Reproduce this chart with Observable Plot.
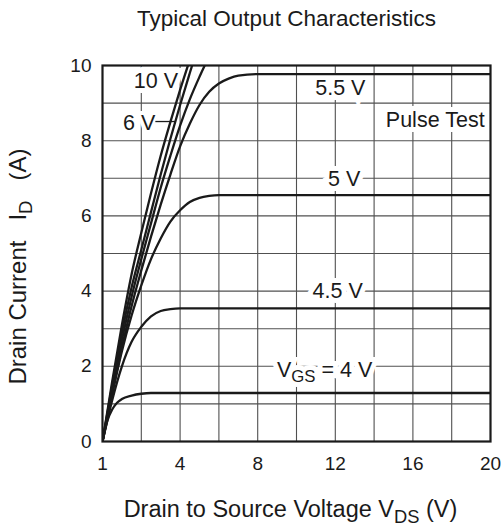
<!DOCTYPE html>
<html>
<head>
<meta charset="utf-8">
<script src="https://cdn.jsdelivr.net/npm/d3@7"></script>
<script src="https://cdn.jsdelivr.net/npm/@observablehq/plot@0.6"></script>
<style>
  html, body { margin: 0; padding: 0; background: #fff; }
  svg { display: block; }
</style>
</head>
<body>
<div id="chart"></div>
<script>
// ---- Data ----
const xTicks = [0, 4, 8, 12, 16, 20];
const xTickLabels = ["1", "4", "8", "12", "16", "20"];
const yTicks = [0, 2, 4, 6, 8, 10];
const xGrid = [2, 4, 6, 8, 10, 12, 14, 16, 18];
const yGrid = [1, 2, 3, 4, 5, 6, 7, 8, 9];

// Drain current I_D (A) vs V_DS (V) for each V_GS curve
const curve10V = [[0,0],[0.5,1.6],[1,3.1],[1.5,4.45],[2,5.55],[2.5,6.6],[3,7.6],[3.5,8.5],[4,9.35],[4.5,10.15]];
const curve8V  = [[0,0],[0.5,1.5],[1,2.9],[1.5,4.1],[2,5.1],[2.5,6.1],[3,7.1],[3.5,8.05],[4,8.95],[4.5,9.8],[4.8,10.3]];
const curve6V  = [[0,0],[0.5,1.4],[1,2.7],[1.5,3.85],[2,4.85],[2.5,5.8],[3,6.75],[3.5,7.6],[4,8.4],[4.5,9.1],[5,9.7],[5.5,10.25]];
const curve55V = [[0,0],[0.5,1.3],[1,2.5],[1.5,3.6],[2,4.55],[2.5,5.45],[3,6.3],[3.5,7.1],[4,7.85],[4.5,8.45],[5,8.95],[5.5,9.3],[6,9.52],[6.5,9.65],[7,9.73],[8,9.77],[20,9.77]];
const curve5V  = [[0,0],[0.5,1.25],[1,2.4],[1.5,3.35],[2,4.15],[2.5,4.85],[3,5.4],[3.5,5.85],[4,6.15],[4.5,6.37],[5,6.48],[5.5,6.53],[6,6.55],[20,6.55]];
const curve45V = [[0,0],[0.5,1.1],[1,2.0],[1.5,2.65],[2,3.05],[2.5,3.33],[3,3.47],[3.5,3.52],[4,3.54],[20,3.54]];
const curve4V  = [[0,0],[0.25,0.55],[0.5,0.85],[0.75,1.03],[1,1.13],[1.5,1.22],[2,1.27],[2.5,1.29],[3,1.29],[20,1.29]];

const curveNames = ["10V", "8V", "6V", "5.5V", "5V", "4.5V", "4V"];
const curveData = [curve10V, curve8V, curve6V, curve55V, curve5V, curve45V, curve4V];

// Annotations (data coordinates)
const labelText = ["10 V", "5.5 V", "Pulse Test", "5 V", "4.5 V", "VGS = 4 V"];
const labelX    = [2.75, 12.26, 17.15, 12.46, 12.12, 11.45];
const labelY    = [9.59, 9.40, 8.55, 6.98, 4.0, 1.9];
const sixVLabel = {t: "6 V", x: 2.72, y: 8.47};
const sixVLeader = {y: 8.51, x1: 2.75, x2: 3.78};

const title = "Typical Output Characteristics";
const xLabel = "XLABEL";
const yLabel = "YLABEL";

// ---- Build tables ----
const rows = [];
curveData.forEach((c, i) => c.forEach(([vds, id]) => rows.push({vgs: curveNames[i], vds, id})));
const labels = labelText.map((t, i) => ({t, x: labelX[i], y: labelY[i]}));

const font = "'Liberation Sans', Arial, Helvetica, sans-serif";
const ink = "#1a1a1a";

const svg = Plot.plot({
  width: 501,
  height: 528,
  marginTop: 65,
  marginBottom: 87,
  marginLeft: 102,
  marginRight: 11,
  style: {fontFamily: font, background: "#fff", color: ink},
  x: {domain: [0, 20]},
  y: {domain: [0, 10]},
  marks: [
    Plot.ruleX(xGrid, {stroke: "#505050", strokeWidth: 1.1}),
    Plot.ruleY(yGrid, {stroke: "#505050", strokeWidth: 1.1}),
    Plot.axisX({ticks: xTicks, tickSize: 0, tickPadding: 15, fontSize: 19, label: null,
      tickFormat: d => xTickLabels[xTicks.indexOf(d)]}),
    Plot.axisY({ticks: yTicks, tickSize: 0, tickPadding: 11, fontSize: 19, label: null}),
    Plot.text(labels, {x: "x", y: "y", text: "t", fontSize: 21.5, fill: ink, stroke: "#fff", strokeWidth: 10, strokeLinejoin: "miter"}),
    Plot.text([sixVLabel], {x: "x", y: "y", text: "t", textAnchor: "end", fontSize: 21.5, fill: ink, stroke: "#fff", strokeWidth: 8}),
    Plot.ruleY([sixVLeader], {y: "y", x1: "x1", x2: "x2", stroke: ink, strokeWidth: 1.3}),
    Plot.line(rows, {x: "vds", y: "id", z: "vgs", curve: "monotone-x", stroke: ink, strokeWidth: 2.3, clip: true}),
    Plot.frame({stroke: ink, strokeWidth: 2.2}),
    Plot.text([title], {frameAnchor: "top", lineAnchor: "middle", textAnchor: "middle", dy: -47, dx: -10, fontSize: 22.5, fill: ink}),
    Plot.text([xLabel], {frameAnchor: "bottom", lineAnchor: "middle", textAnchor: "middle", dy: 68, dx: -6, fontSize: 23.5, fill: ink}),
    Plot.text([yLabel], {frameAnchor: "left", lineAnchor: "middle", textAnchor: "middle", dx: -84, dy: 13, rotate: -90, fontSize: 24, fill: ink})
  ]
});

// Subscripts as real text
function sub(el, parts) {
  const sel = d3.select(el);
  sel.text(null);
  parts.forEach(([s, kind]) => {
    const ts = sel.append("tspan").text(s);
    if (kind === "sub") ts.attr("font-size", "0.78em").attr("dy", "0.32em");
    if (kind === "after") ts.attr("dy", "-0.25em");
  });
}
d3.select(svg).selectAll("text").each(function() {
  const t = this.textContent;
  if (t === "VGS = 4 V") sub(this, [["V"], ["GS", "sub"], [" = 4 V", "after"]]);
  else if (t === "XLABEL") sub(this, [["Drain to Source Voltage V"], ["DS", "sub"], [" (V)", "after"]]);
  else if (t === "YLABEL") sub(this, [["Drain Current\u00a0\u00a0\u00a0I"], ["D", "sub"], ["\u00a0\u00a0\u00a0(A)", "after"]]);
});

document.getElementById("chart").appendChild(svg);
</script>
</body>
</html>
